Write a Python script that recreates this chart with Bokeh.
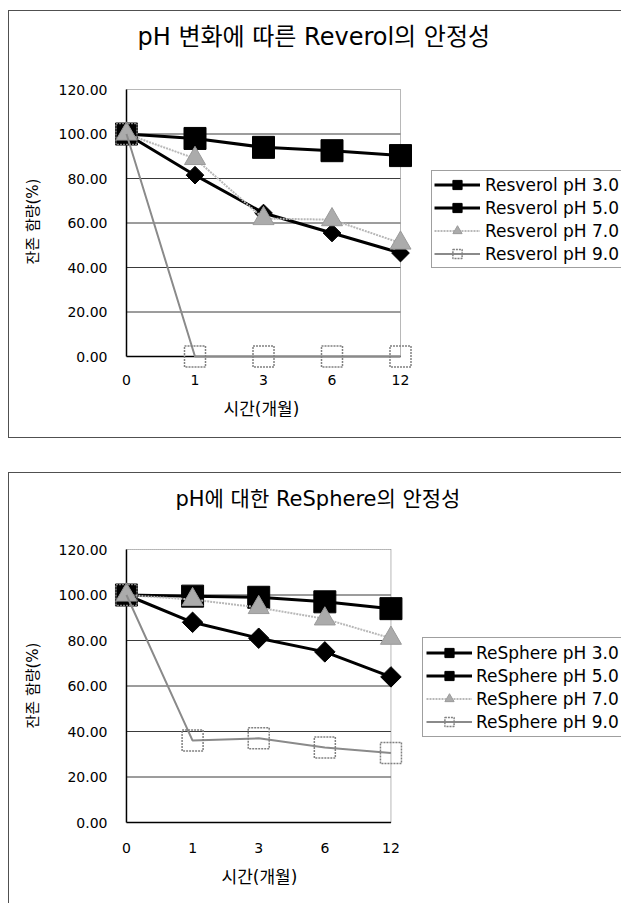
import numpy as np
from bokeh.plotting import figure
from bokeh.models import (Range1d, FixedTicker, NumeralTickFormatter, Legend,
                          LegendItem, Title)
from bokeh.layouts import column
from bokeh.embed import file_html
from bokeh.resources import INLINE

# ---------------- data ----------------
months = ["0", "1", "3", "6", "12"]
y_ticks = [0, 20, 40, 60, 80, 100, 120]

res_title = "pH 변화에 따른 Reverol의 안정성"
res_names = ["Resverol pH 3.0", "Resverol pH 5.0", "Resverol pH 7.0", "Resverol pH 9.0"]
res_ph3 = [100, 81.5, 64.5, 55.5, 46.5]
res_ph5 = [100, 98, 94, 92.5, 90.3]
res_ph7 = [100, 89, 62, 61.5, 51]
res_ph9 = [100, 0, 0, 0, 0]

rs_title = "pH에 대한 ReSphere의 안정성"
rs_names = ["ReSphere pH 3.0", "ReSphere pH 5.0", "ReSphere pH 7.0", "ReSphere pH 9.0"]
rs_ph3 = [100, 88, 81, 75, 64]
rs_ph5 = [100, 99.5, 99, 97, 94]
rs_ph7 = [100, 98, 94.5, 89.5, 81]
rs_ph9 = [100, 36, 37, 33, 30.5]

x_label = "시간(개월)"
y_label = "잔존 함량(%)"

KFONT = "'DejaVu Sans', 'Noto Sans CJK KR'"
NFONT = "DejaVu Sans"
PAD = 14  # extra frame room so edge markers are not clipped


def frame_css(H, top, bottom):
    c = "linear-gradient(#505050, #505050)"
    parts = [f"{c} 8px {top}px / 1px {bottom - top + 1}px no-repeat",
             f"{c} 8px {top}px / 700px 1px no-repeat"]
    if bottom < H:
        parts.append(f"{c} 8px {bottom}px / 700px 1px no-repeat")
    parts.append("#ffffff")
    return ", ".join(parts)


def build(title, names, series, geo):
    W, H = 621, geo["H"]
    n = len(months)
    ymax = y_ticks[-1]
    ppx = (geo["fr"] - geo["fl"]) / (n - 1)
    ppy = (geo["fb"] - geo["ft"]) / (ymax - y_ticks[0])
    p = figure(width=W, height=H, output_backend="svg", toolbar_location=None,
               x_range=Range1d(-PAD / ppx, (W - geo["fl"]) / ppx),
               y_range=Range1d(y_ticks[0] - PAD / ppy, ymax + (geo["ft"] - geo["T"]) / ppy))
    p.min_border = 0
    p.min_border_left = geo["fl"] - PAD
    p.min_border_right = 0
    p.min_border_top = geo["T"]
    p.min_border_bottom = H - geo["fb"] - PAD
    p.background_fill_alpha = 0
    p.border_fill_alpha = 0
    p.outline_line_color = None
    p.styles = {"background": frame_css(H, geo["bt"], geo["bb"])}

    xs = list(range(n))

    # axes (their lines are drawn at the plot-area edges below)
    p.xaxis.bounds = (0, n - 1)
    p.xaxis.ticker = FixedTicker(ticks=xs)
    p.xaxis.major_label_overrides = {i: m for i, m in enumerate(months)}
    p.xaxis.minor_tick_line_color = None
    p.xaxis.major_tick_line_color = None
    p.xaxis.major_tick_out = 0
    p.xaxis.major_tick_in = 0
    p.xaxis.axis_line_color = None
    p.xaxis.major_label_text_font = NFONT
    p.xaxis.major_label_text_font_size = "14px"
    p.xaxis.major_label_text_color = "black"
    p.xaxis.major_label_standoff = geo["xls"]

    p.yaxis.bounds = (y_ticks[0], ymax)
    p.yaxis.ticker = FixedTicker(ticks=y_ticks)
    p.yaxis.formatter = NumeralTickFormatter(format="0.00")
    p.yaxis.minor_tick_line_color = None
    p.yaxis.major_tick_line_color = None
    p.yaxis.major_tick_out = 0
    p.yaxis.major_tick_in = 0
    p.yaxis.axis_line_color = None
    p.yaxis.major_label_text_font = NFONT
    p.yaxis.major_label_text_font_size = "14px"
    p.yaxis.major_label_text_color = "black"
    p.yaxis.major_label_standoff = 19 - PAD
    p.yaxis.axis_label = y_label
    p.yaxis.axis_label_text_font = KFONT
    p.yaxis.axis_label_text_font_size = "15px"
    p.yaxis.axis_label_text_font_style = "normal"
    p.yaxis.axis_label_text_color = "black"
    p.yaxis.axis_label_standoff = 14

    p.grid.visible = False
    # white plot area, gridlines and dotted plot-area border (top and right)
    p.quad(left=[0], right=[n - 1], bottom=[y_ticks[0]], top=[ymax],
           fill_color="white", line_color=None)
    gy = y_ticks[1:-1]
    p.segment(x0=[0] * len(gy), x1=[n - 1] * len(gy), y0=gy, y1=gy,
              line_color="#3a3a3a", line_width=1)
    p.segment(x0=[0, n - 1], y0=[ymax, y_ticks[0]], x1=[n - 1, n - 1], y1=[ymax, ymax],
              line_color="#707070", line_width=1, line_dash="1 1")
    # solid axis lines along the left and bottom edges of the plot area
    p.segment(x0=[0, 0], y0=[y_ticks[0], y_ticks[0]], x1=[0, n - 1], y1=[ymax, y_ticks[0]],
              line_color="black", line_width=1.5)

    styles = [
        dict(line=dict(line_color="black", line_width=3),
             mk=dict(marker="square", angle=np.pi / 4, size=geo["dia"],
                     fill_color="black", line_color="black")),
        dict(line=dict(line_color="black", line_width=3),
             mk=dict(marker="square", size=geo["sq"], fill_color="black", line_color="black")),
        dict(line=dict(line_color="#b8b8b8", line_width=2, line_dash="2 1"),
             mk=dict(marker="triangle", size=geo["tri"], fill_color="#ababab",
                     line_color="#9a9a9a")),
        dict(line=dict(line_color="#8a8a8a", line_width=2),
             mk=dict(marker="square", size=geo["osq"], fill_alpha=0, line_color="#808080",
                     line_dash="2 1", line_width=1.5)),
    ]

    items = []
    for name, ys, st in zip(names, series, styles):
        lr = p.line(xs, ys, **st["line"])
        sr = p.scatter(xs, ys, **st["mk"])
        items.append(LegendItem(label=name, renderers=[lr, sr]))

    leg = Legend(items=items,
                 location=(geo["lx"] - (geo["fl"] - PAD), (geo["fb"] + PAD) - geo["lb"]))
    leg.border_line_color = "#404040"
    leg.border_line_width = 1
    leg.background_fill_color = "white"
    leg.background_fill_alpha = 1
    leg.padding = geo["lpad"]
    leg.margin = 0
    leg.spacing = 0
    leg.glyph_width = 46
    leg.glyph_height = geo["lgh"]
    leg.label_height = geo["lgh"]
    leg.label_standoff = 7 - geo["lpad"]
    leg.label_text_font = NFONT
    leg.label_text_font_size = geo["lfs"]
    leg.label_text_color = "black"
    leg.label_text_baseline = "middle"
    p.add_layout(leg, "center")

    t = Title(text=title, align="left", offset=geo["tx"] - (geo["fl"] - PAD),
              vertical_align="middle", standoff=geo["tstand"],
              text_font=KFONT, text_font_size=geo["tfs"], text_font_style="normal",
              text_color="black")
    p.add_layout(t, "above")

    # x-axis title, centred under the plot area
    xt = Title(text=x_label, align="left", offset=geo["xtx"] - (geo["fl"] - PAD),
               vertical_align="middle", standoff=geo["xts"],
               text_font=KFONT, text_font_size="17px", text_font_style="normal",
               text_color="black")
    p.add_layout(xt, "below")
    return p


geo_top = dict(H=460, fl=126, fr=400, ft=89, fb=356, T=72, xls=4,
               dia=12.5, sq=22, tri=21, osq=21,
               lx=431, lb=268, lpad=2, lgh=23, lfs="17px",
               bt=10, bb=437, tx=137, tstand=42, tfs="24px",
               xtx=223, xts=20)
geo_bot = dict(H=443, fl=125, fr=390, ft=89, fb=362, T=74, xls=6,
               dia=14.5, sq=22, tri=21, osq=21,
               lx=421, lb=277, lpad=3, lgh=23, lfs="17px",
               bt=12, bb=470, tx=174, tstand=46, tfs="21px",
               xtx=220, xts=20)

p1 = build(res_title, res_names, [res_ph3, res_ph5, res_ph7, res_ph9], geo_top)
p2 = build(rs_title, rs_names, [rs_ph3, rs_ph5, rs_ph7, rs_ph9], geo_bot)

layout = column(p1, p2, spacing=0)
open("out.html", "w").write(file_html(layout, INLINE))
